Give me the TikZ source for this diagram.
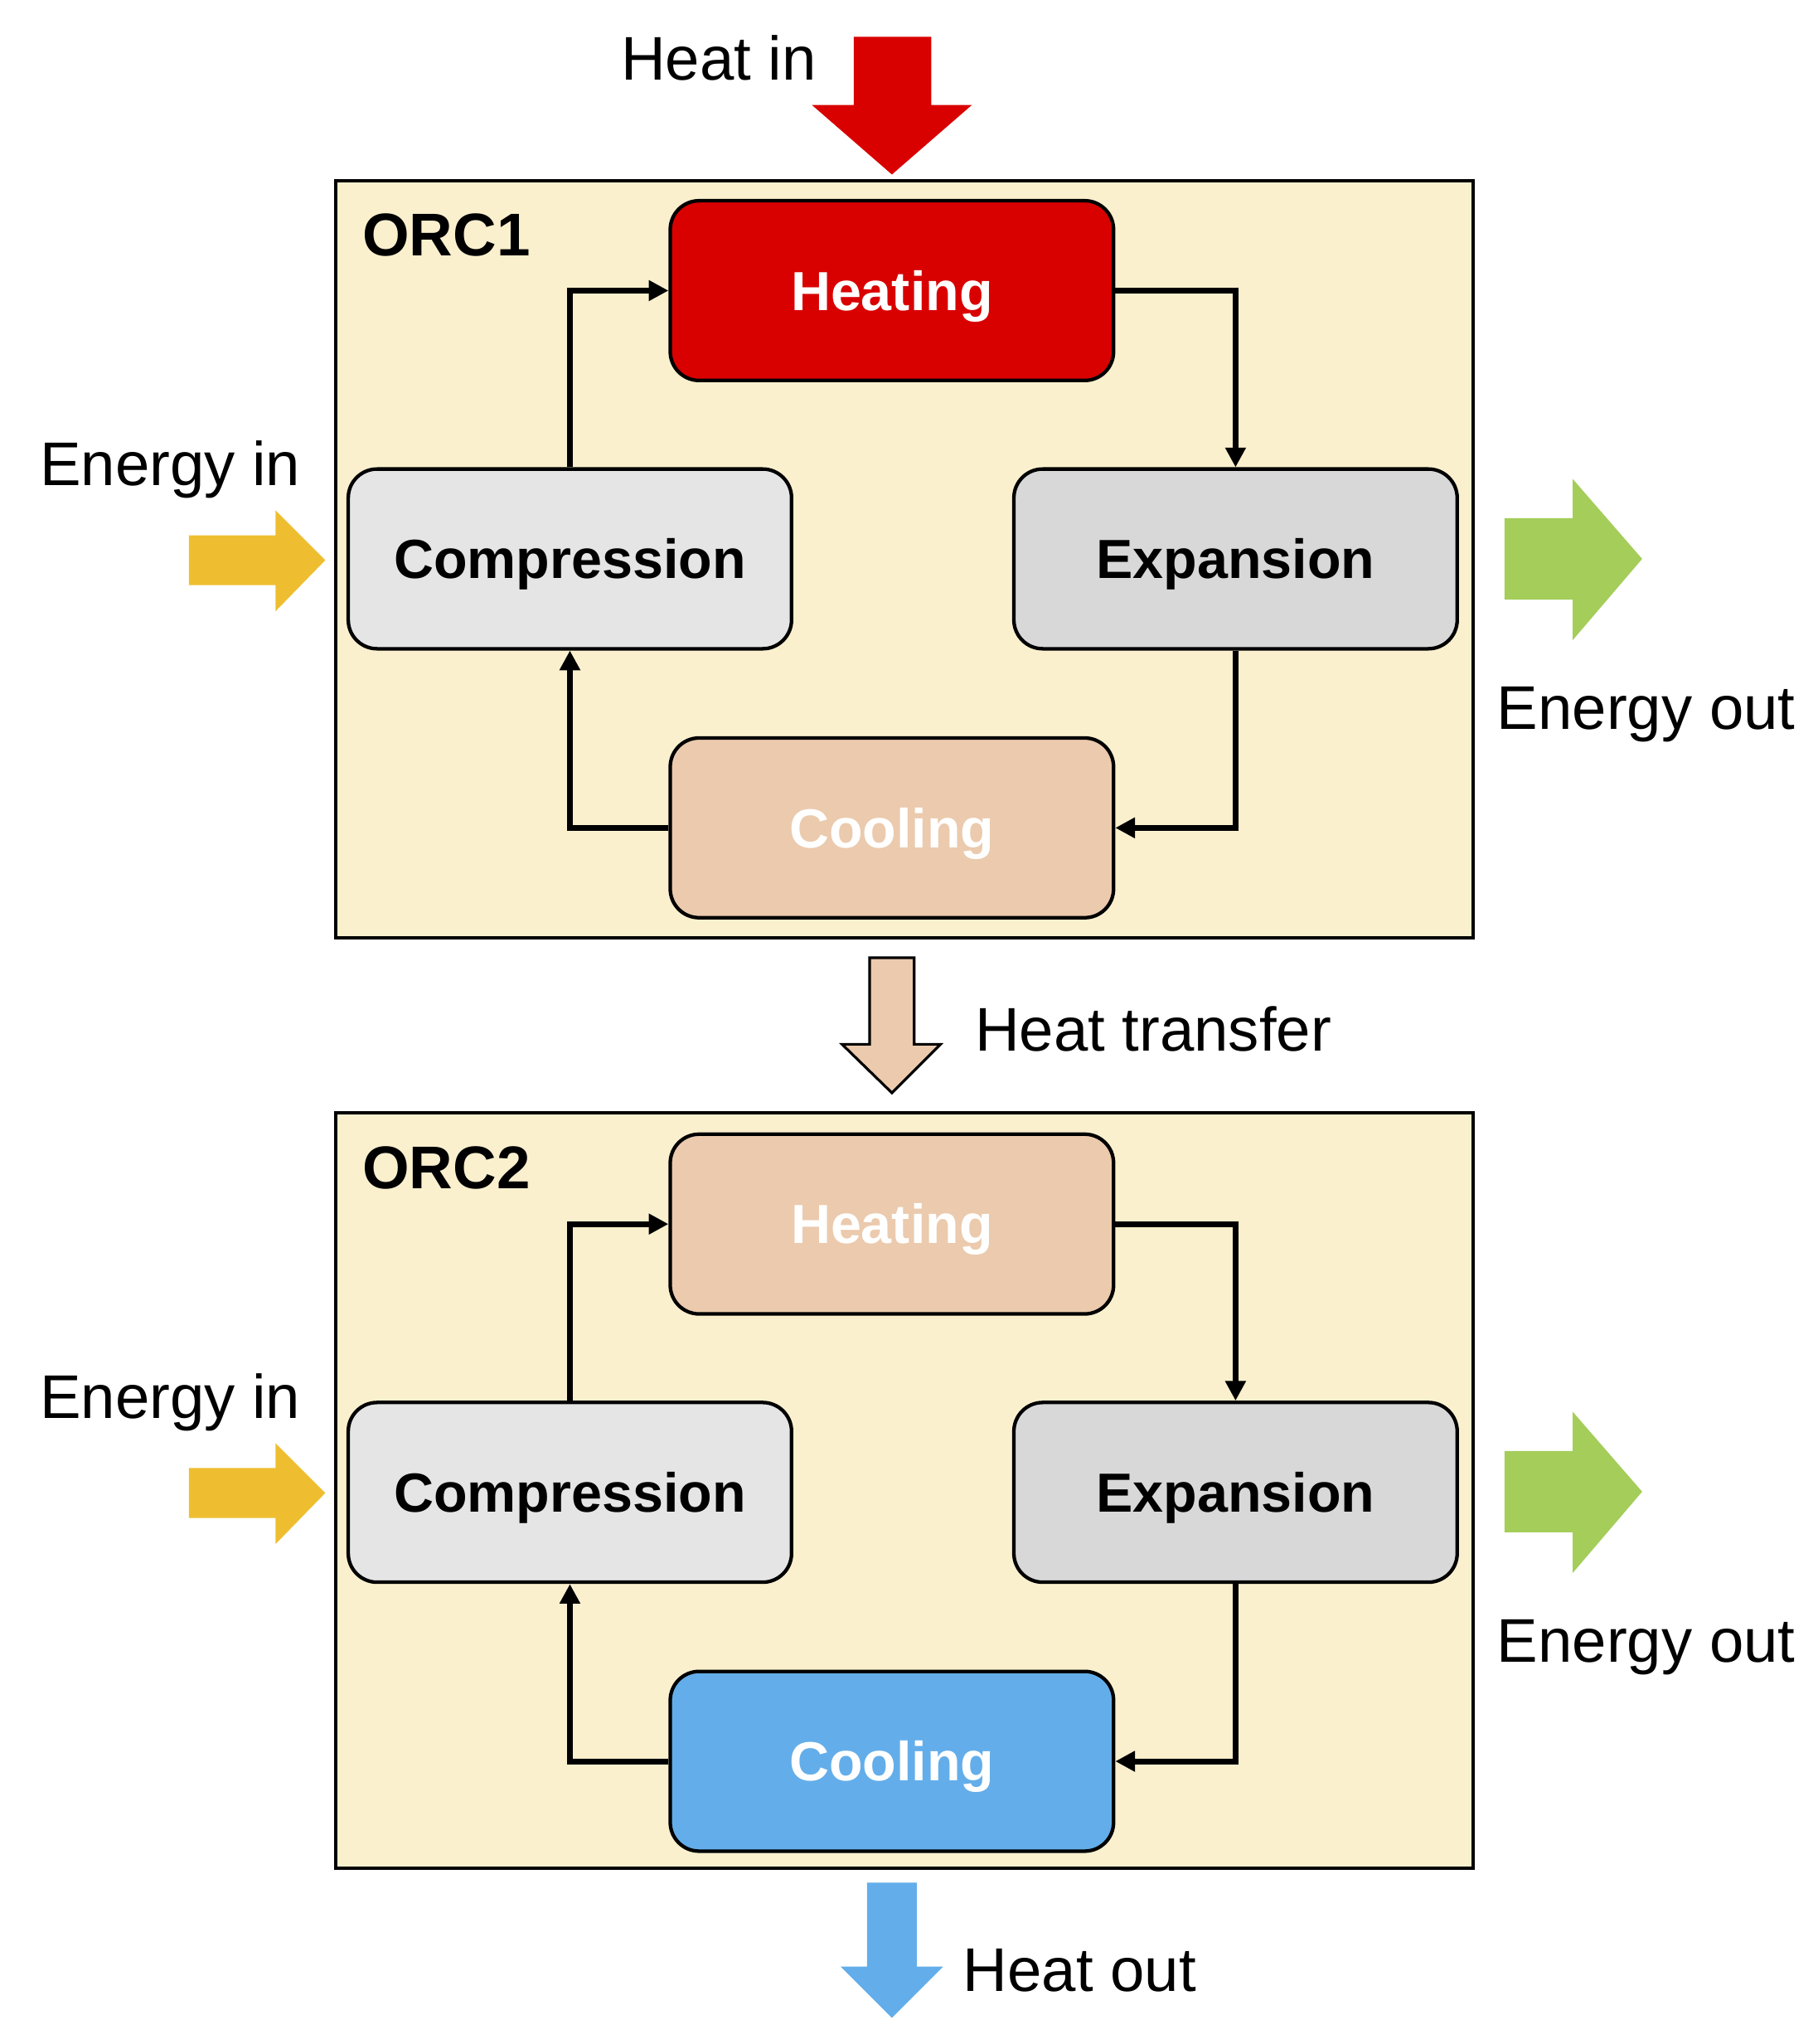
\documentclass[tikz,border=0pt]{standalone}
\usepackage{fontspec}
\setmainfont{Liberation Sans}
\usetikzlibrary{arrows.meta}
\definecolor{bgyel}{HTML}{FAF0CE}
\definecolor{peach}{HTML}{EBCAAD}
\definecolor{hred}{HTML}{D90000}
\definecolor{compgray}{HTML}{E5E5E5}
\definecolor{expgray}{HTML}{D8D8D8}
\definecolor{cblue}{HTML}{63AEEA}
\definecolor{eyel}{HTML}{EEBE30}
\definecolor{egreen}{HTML}{A4CD5A}
\tikzset{
  stagebox/.style={draw=black, line width=1.35pt, rounded corners=11pt,
    minimum width=169pt, minimum height=68.5pt, inner sep=0pt,
    font=\fontsize{21}{25}\selectfont\bfseries, text height=15pt, text depth=0pt},
  frame/.style={draw=black, line width=1.25pt, fill=bgyel},
  flow/.style={line width=2.2pt, -{Triangle[length=7.5pt,width=7.5pt]}},
  lbl/.style={anchor=base west, inner sep=0pt, font=\fontsize{23.5}{28}\selectfont},
  orclbl/.style={anchor=base west, inner sep=0pt, font=\fontsize{23}{28}\selectfont\bfseries},
}
\begin{document}
\begin{tikzpicture}[x=0.5pt,y=-0.5pt]
\useasboundingbox (0,0) rectangle (1386,1558);

% frames
\draw[frame] (256,138) rectangle (1123,715);
\draw[frame] (256,848) rectangle (1123,1424);

% ORC1 nodes
\node[stagebox, fill=hred, text=white] (heat1) at (680,221.5) {Heating};
\node[stagebox, fill=compgray] (comp1) at (434.5,426) {Compression};
\node[stagebox, fill=expgray] (exp1) at (942,426) {Expansion};
\node[stagebox, fill=peach, text=white] (cool1) at (680,631) {Cooling};

% ORC2 nodes
\node[stagebox, fill=peach, text=white] (heat2) at (680,933) {Heating};
\node[stagebox, fill=compgray] (comp2) at (434.5,1137.5) {Compression};
\node[stagebox, fill=expgray] (exp2) at (942,1137.5) {Expansion};
\node[stagebox, fill=cblue, text=white] (cool2) at (680,1342.5) {Cooling};

% cycle connectors
\foreach \i in {1,2}{
  \draw[flow] (comp\i.north) |- (heat\i.west);
  \draw[flow] (heat\i.east) -| (exp\i.north);
  \draw[flow] (exp\i.south) |- (cool\i.east);
  \draw[flow] (cool\i.west) -| (comp\i.south);
}

% labels
\node[orclbl] (orc1) at (276,195) {ORC1};
\node[orclbl] (orc2) at (276,906) {ORC2};
\node[lbl] (heatin) at (473,61) {Heat in};
\node[lbl] (ein1) at (30,370) {Energy in};
\node[lbl] (ein2) at (30,1081) {Energy in};
\node[lbl] (eout1) at (1141,556) {Energy out};
\node[lbl] (eout2) at (1141,1267) {Energy out};
\node[lbl] (htrans) at (743,801) {Heat transfer};
\node[lbl] (hout) at (734,1518) {Heat out};

% block arrows
\fill[hred] (651,28) -- (710,28) -- (710,80) -- (741,80) -- (680,133) -- (619,80) -- (651,80) -- cycle;
\filldraw[fill=peach, draw=black, line width=1pt] (663,730) -- (697,730) -- (697,796) -- (717,796) -- (680,833) -- (642,796) -- (663,796) -- cycle;
\fill[cblue] (661,1435) -- (699,1435) -- (699,1499) -- (719,1499) -- (680,1538) -- (641,1499) -- (661,1499) -- cycle;
\foreach \dy in {0,711}{
  \fill[eyel] (144,408+\dy) -- (210,408+\dy) -- (210,389+\dy) -- (248,427+\dy) -- (210,466+\dy) -- (210,446+\dy) -- (144,446+\dy) -- cycle;
  \fill[egreen] (1147,395+\dy) -- (1199,395+\dy) -- (1199,365+\dy) -- (1252,426+\dy) -- (1199,488+\dy) -- (1199,457+\dy) -- (1147,457+\dy) -- cycle;
}
\end{tikzpicture}
\end{document}
